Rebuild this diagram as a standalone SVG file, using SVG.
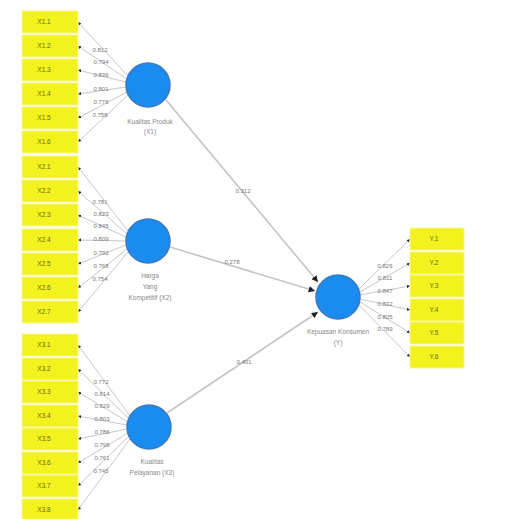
<svg xmlns="http://www.w3.org/2000/svg" width="505" height="519" viewBox="0 0 505 519">
<defs>
<marker id="ah" viewBox="0 0 6 6" refX="6" refY="3" markerWidth="4" markerHeight="4" orient="auto"><path d="M0,0 L6,3 L0,6 z" fill="#222"/></marker>
<style>
.box{fill:#f2f21e;stroke:#f8f890;stroke-width:1}
.bt{font-family:"Liberation Sans",Arial,sans-serif;font-size:6.5px;fill:#6a6a10;text-anchor:middle}
.ln{stroke:#b8b8b8;stroke-width:0.8;fill:none;marker-end:url(#ah)}
.pl{stroke:#c4c4c4;stroke-width:1.6;fill:none;marker-end:url(#ah)}
.lt{font-family:"Liberation Sans",Arial,sans-serif;font-size:6px;fill:#777;text-anchor:middle}
.cc{fill:#1a8cf0;stroke:#3a78c0;stroke-width:1.5}
.ct{font-family:"Liberation Sans",Arial,sans-serif;font-size:6.5px;fill:#888;text-anchor:middle}
</style>
</defs>
<rect width="505" height="519" fill="#fff"/>
<g id="connectors">
<line class="pl" x1="166" y1="100" x2="318" y2="282"/>
<line class="pl" x1="170" y1="247" x2="315" y2="291"/>
<line class="pl" x1="167" y1="413" x2="318" y2="312"/>
<text class="lt" x="243" y="193">0.312</text>
<text class="lt" x="232" y="264">0.278</text>
<text class="lt" x="244" y="364">0.401</text>
<line class="ln" x1="128" y1="76" x2="78" y2="22"/>
<line class="ln" x1="127" y1="79" x2="78" y2="46"/>
<line class="ln" x1="126" y1="82" x2="78" y2="70"/>
<line class="ln" x1="126" y1="87" x2="78" y2="94"/>
<line class="ln" x1="127" y1="92" x2="78" y2="118"/>
<line class="ln" x1="128" y1="95" x2="78" y2="142"/>
<text class="lt" x="100" y="52">0.812</text>
<text class="lt" x="101" y="64">0.794</text>
<text class="lt" x="101" y="77">0.836</text>
<text class="lt" x="101" y="91">0.801</text>
<text class="lt" x="101" y="104">0.776</text>
<text class="lt" x="100" y="117">0.758</text>
<line class="ln" x1="128" y1="231" x2="78" y2="167"/>
<line class="ln" x1="127" y1="234" x2="78" y2="191"/>
<line class="ln" x1="126" y1="237" x2="78" y2="215"/>
<line class="ln" x1="126" y1="241" x2="78" y2="240"/>
<line class="ln" x1="126" y1="245" x2="78" y2="264"/>
<line class="ln" x1="127" y1="249" x2="78" y2="288"/>
<line class="ln" x1="128" y1="252" x2="78" y2="312"/>
<text class="lt" x="100" y="204">0.781</text>
<text class="lt" x="101" y="216">0.823</text>
<text class="lt" x="101" y="228">0.845</text>
<text class="lt" x="101" y="241">0.809</text>
<text class="lt" x="101" y="255">0.792</text>
<text class="lt" x="101" y="268">0.768</text>
<text class="lt" x="100" y="281">0.754</text>
<line class="ln" x1="130" y1="416" x2="78" y2="345"/>
<line class="ln" x1="129" y1="419" x2="78" y2="369"/>
<line class="ln" x1="128" y1="422" x2="78" y2="392"/>
<line class="ln" x1="127" y1="425" x2="78" y2="416"/>
<line class="ln" x1="127" y1="429" x2="78" y2="439"/>
<line class="ln" x1="128" y1="433" x2="78" y2="463"/>
<line class="ln" x1="129" y1="436" x2="78" y2="486"/>
<line class="ln" x1="130" y1="439" x2="78" y2="510"/>
<text class="lt" x="101" y="384">0.772</text>
<text class="lt" x="102" y="396">0.814</text>
<text class="lt" x="102" y="408">0.829</text>
<text class="lt" x="102" y="421">0.803</text>
<text class="lt" x="102" y="434">0.786</text>
<text class="lt" x="102" y="447">0.798</text>
<text class="lt" x="102" y="460">0.761</text>
<text class="lt" x="101" y="473">0.745</text>
<line class="ln" x1="359" y1="289" x2="410" y2="239"/>
<line class="ln" x1="360" y1="292" x2="410" y2="263"/>
<line class="ln" x1="360" y1="295" x2="410" y2="286"/>
<line class="ln" x1="360" y1="299" x2="410" y2="310"/>
<line class="ln" x1="360" y1="302" x2="410" y2="333"/>
<line class="ln" x1="359" y1="305" x2="410" y2="357"/>
<text class="lt" x="385" y="268">0.826</text>
<text class="lt" x="385" y="280">0.811</text>
<text class="lt" x="385" y="293">0.847</text>
<text class="lt" x="385" y="306">0.832</text>
<text class="lt" x="385" y="319">0.805</text>
<text class="lt" x="385" y="331">0.789</text>
</g>
<g id="x1-indicators">
<rect class="box" x="22" y="11" width="56" height="22"/><text class="bt" x="44" y="24">X1.1</text>
<rect class="box" x="22" y="35" width="56" height="22"/><text class="bt" x="44" y="48">X1.2</text>
<rect class="box" x="22" y="59" width="56" height="22"/><text class="bt" x="44" y="72">X1.3</text>
<rect class="box" x="22" y="83" width="56" height="22"/><text class="bt" x="44" y="96">X1.4</text>
<rect class="box" x="22" y="107" width="56" height="22"/><text class="bt" x="44" y="120">X1.5</text>
<rect class="box" x="22" y="131" width="56" height="22"/><text class="bt" x="44" y="144">X1.6</text>
</g>
<g id="x2-indicators">
<rect class="box" x="22" y="156" width="56" height="22"/><text class="bt" x="44" y="169">X2.1</text>
<rect class="box" x="22" y="180" width="56" height="22"/><text class="bt" x="44" y="193">X2.2</text>
<rect class="box" x="22" y="204" width="56" height="22"/><text class="bt" x="44" y="217">X2.3</text>
<rect class="box" x="22" y="229" width="56" height="22"/><text class="bt" x="44" y="242">X2.4</text>
<rect class="box" x="22" y="253" width="56" height="22"/><text class="bt" x="44" y="266">X2.5</text>
<rect class="box" x="22" y="277" width="56" height="22"/><text class="bt" x="44" y="290">X2.6</text>
<rect class="box" x="22" y="301" width="56" height="22"/><text class="bt" x="44" y="314">X2.7</text>
</g>
<g id="x3-indicators">
<rect class="box" x="22" y="334" width="56" height="22"/><text class="bt" x="44" y="347">X3.1</text>
<rect class="box" x="22" y="358" width="56" height="22"/><text class="bt" x="44" y="371">X3.2</text>
<rect class="box" x="22" y="381" width="56" height="22"/><text class="bt" x="44" y="394">X3.3</text>
<rect class="box" x="22" y="405" width="56" height="22"/><text class="bt" x="44" y="418">X3.4</text>
<rect class="box" x="22" y="428" width="56" height="22"/><text class="bt" x="44" y="441">X3.5</text>
<rect class="box" x="22" y="452" width="56" height="22"/><text class="bt" x="44" y="465">X3.6</text>
<rect class="box" x="22" y="475" width="56" height="22"/><text class="bt" x="44" y="488">X3.7</text>
<rect class="box" x="22" y="499" width="56" height="20"/><text class="bt" x="44" y="512">X3.8</text>
</g>
<g id="y-indicators">
<rect class="box" x="410" y="228" width="54" height="22"/><text class="bt" x="434" y="241">Y.1</text>
<rect class="box" x="410" y="252" width="54" height="22"/><text class="bt" x="434" y="265">Y.2</text>
<rect class="box" x="410" y="275" width="54" height="22"/><text class="bt" x="434" y="288">Y.3</text>
<rect class="box" x="410" y="299" width="54" height="22"/><text class="bt" x="434" y="312">Y.4</text>
<rect class="box" x="410" y="322" width="54" height="22"/><text class="bt" x="434" y="335">Y.5</text>
<rect class="box" x="410" y="346" width="54" height="22"/><text class="bt" x="434" y="359">Y.6</text>
</g>
<g id="construct-x1">
<circle class="cc" cx="148" cy="85" r="22"/>
<text class="ct" x="150" y="124">Kualitas Produk</text>
<text class="ct" x="150" y="134">(X1)</text>
</g>
<g id="construct-x2">
<circle class="cc" cx="148" cy="241" r="22"/>
<text class="ct" x="150" y="278">Harga</text>
<text class="ct" x="150" y="289">Yang</text>
<text class="ct" x="150" y="300">Kompetitif (X2)</text>
</g>
<g id="construct-x3">
<circle class="cc" cx="149" cy="427" r="22"/>
<text class="ct" x="152" y="464">Kualitas</text>
<text class="ct" x="152" y="475">Pelayanan (X3)</text>
</g>
<g id="construct-y">
<circle class="cc" cx="338" cy="297" r="22"/>
<text class="ct" x="338" y="334">Kepuasan Konsumen</text>
<text class="ct" x="338" y="345">(Y)</text>
</g>
</svg>
